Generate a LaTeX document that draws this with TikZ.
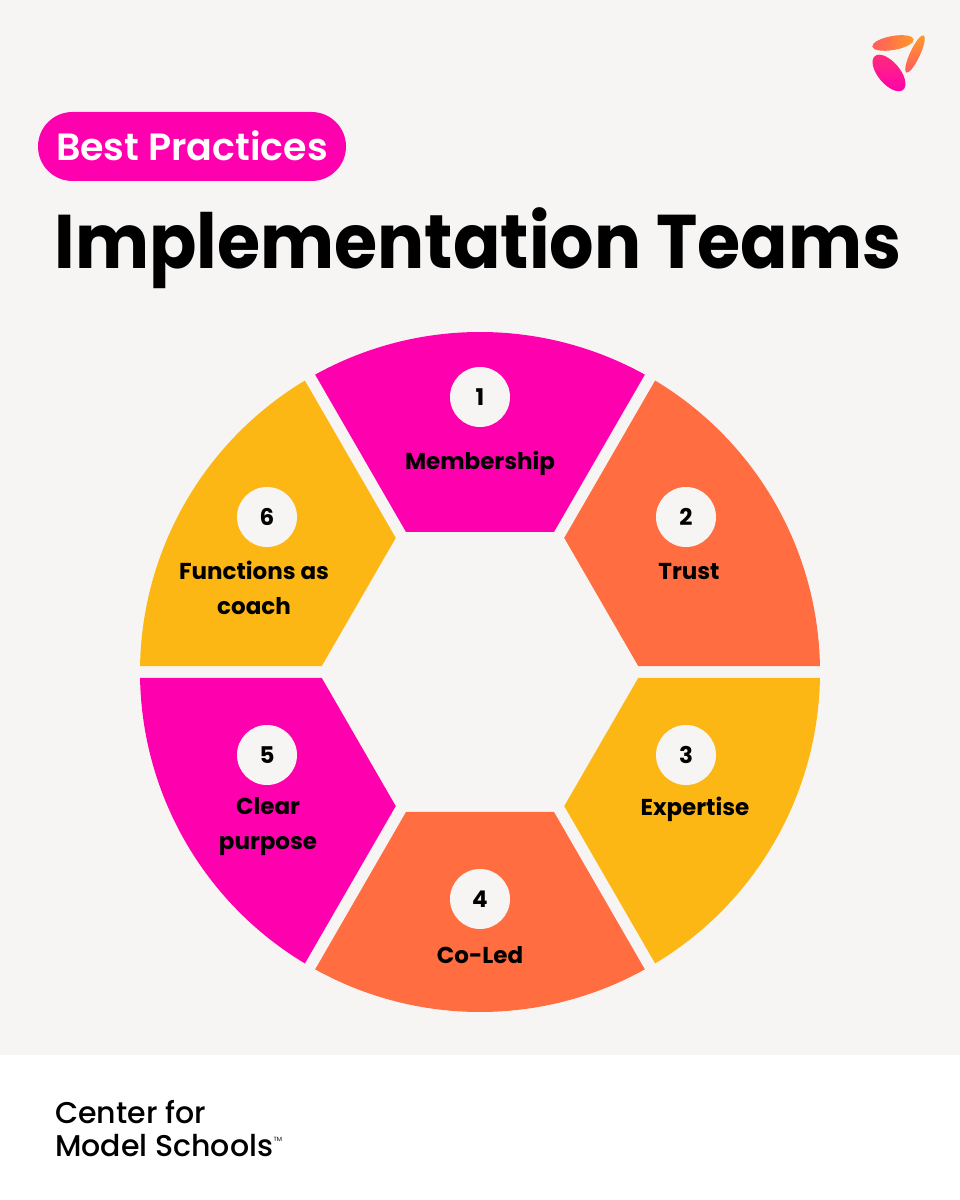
\documentclass[tikz,border=0pt]{standalone}
\usepackage{fontspec}
\setmainfont{Poppins}
\newfontfamily\semibold{Poppins SemiBold}
\newfontfamily\medium{Poppins Medium}
\definecolor{paper}{HTML}{F7F5F4}
\definecolor{magentapc}{HTML}{FF00AE}
\definecolor{orangepc}{HTML}{FF6D40}
\definecolor{yellowpc}{HTML}{FDB714}
\definecolor{logoa}{HTML}{FF5A60}
\definecolor{logob}{HTML}{FF9A28}
\definecolor{logoc}{HTML}{FF2E78}
\tikzset{
    num/.style={circle, fill=paper, draw=none, minimum size=60pt, inner sep=0pt,
    	font=\fontsize{23}{23}\selectfont\bfseries},
    lbl/.style={draw=none, fill=none, inner sep=0pt, align=center,
    	font=\fontsize{23}{35}\selectfont\bfseries},
    foot/.style={inner sep=0pt, anchor=base west, font=\fontsize{30}{30}\selectfont\medium},
    piece/.pic={
    	\fill[pic actions] (-74,140) -- (119:340) arc (119:61:340) -- (74,140) -- cycle;
    }
}

\begin{document}
\begin{tikzpicture}[x=1pt, y=1pt]
  \useasboundingbox (0,0) rectangle (960,1200);
  \fill[paper] (0,0) rectangle (960,1200);
  \fill[white] (0,0) rectangle (960,145);

  % ring, centre at (480,528)
  \pic[fill=magentapc] at (480,528) {piece};
  \pic[fill=orangepc, rotate=-60] at (480,528) {piece};
  \pic[fill=yellowpc, rotate=-120] at (480,528) {piece};
  \pic[fill=orangepc, rotate=180] at (480,528) {piece};
  \pic[fill=magentapc, rotate=120] at (480,528) {piece};
  \pic[fill=yellowpc, rotate=60] at (480,528) {piece};

  \node (n_1) [num] at (480,803) {1};
  \node (n_2) [num] at (686,683) {2};
  \node (n_3) [num] at (686,445) {3};
  \node (n_4) [num] at (480,301) {4};
  \node (n_5) [num] at (267,445) {5};
  \node (n_6) [num] at (267,683) {6};

  \node (l_1) [lbl] at (480,737) {Membership};
  \node (l_2) [lbl] at (689,628) {Trust};
  \node (l_3) [lbl] at (695,391) {Expertise};
  \node (l_4) [lbl] at (480,245) {Co-Led};
  \node (l_5) [lbl] at (268,373) {Clear\\purpose};
  \node (l_6) [lbl] at (254,612) {Functions as\\coach};

  % heading
  \node (pill) [fill=magentapc, rounded corners=34.5pt, minimum width=308pt, minimum height=69pt,
    inner sep=0pt, text=white, font=\fontsize{38}{38}\selectfont\semibold] at (192,1053.5) {\raisebox{2pt}{Best Practices}};
  \node (title) [inner sep=0pt, transform shape, xscale=.92, font=\fontsize{76}{76}\selectfont\bfseries] at (478,952) {Implementation Teams};

  % logo
  \shade[left color=logoa, right color=logob, rotate around={10:(893,1157)}]
    (893,1157) ellipse (21 and 7);
  \shade[top color=logob, bottom color=logoa, rotate around={65:(915,1146)}]
    (915,1146) ellipse (20.5 and 5);
  \shade[top color=logoc, bottom color=magentapc, rotate around={-50:(889,1127)}]
    (889,1127) ellipse (22 and 11);

  % footer
  \node (center) [foot] at (55,76) {Center for};
  \node (schools) [foot] at (55,43) {Model Schools};
  \node (tm) [inner sep=0pt, anchor=base west, font=\fontsize{6}{6}\selectfont] at (schools.base east) [yshift=15pt] {TM};
\end{tikzpicture}
\end{document}
